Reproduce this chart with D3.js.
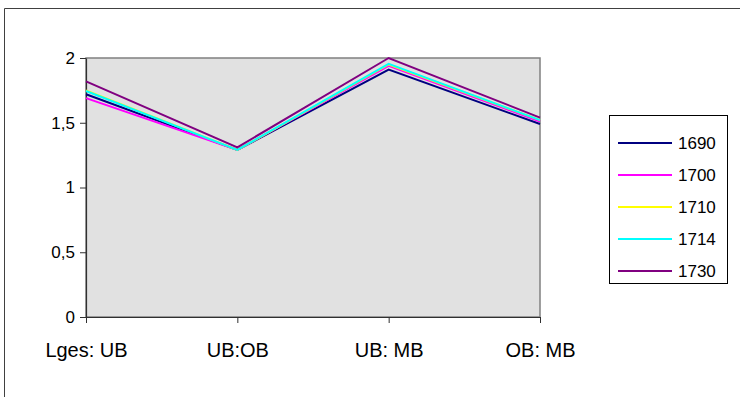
<!DOCTYPE html>
<html><head><meta charset="utf-8">
<script src="https://cdn.jsdelivr.net/npm/d3@7/dist/d3.min.js"></script>
<style>body{margin:0;background:#fff}svg{display:block}text{font-family:"Liberation Sans",Arial,sans-serif}</style>
</head><body><svg id="c" width="740" height="397"></svg>
<script>
const categories = ["Lges: UB", "UB:OB", "UB: MB", "OB: MB"];
const seriesNames = ["1690", "1700", "1710", "1714", "1730"];
const seriesColors = ["#000080", "#ff00ff", "#ffff00", "#00ffff", "#800080"];
const v1690 = [1.72, 1.29, 1.91, 1.49];
const v1700 = [1.69, 1.29, 1.94, 1.51];
const v1710 = [1.75, 1.29, 1.95, 1.52];
const v1714 = [1.745, 1.29, 1.955, 1.52];
const v1730 = [1.82, 1.31, 2.0, 1.54];
const seriesValues = [v1690, v1700, v1710, v1714, v1730];
const yTicks = [0, 0.5, 1, 1.5, 2];
const yTickLabels = ["0", "0,5", "1", "1,5", "2"];

const svg = d3.select("#c");
const L = 86, R = 540, T = 58, B = 317;
const x = d3.scalePoint().domain(categories).range([L, R]);
const y = d3.scaleLinear().domain([0, 2]).range([B, T]);

// outer frame
svg.append("path").attr("d", "M4.5,397 V8.5 H740").attr("fill", "none").attr("stroke", "#404040").attr("stroke-width", 1);

// plot area
svg.append("rect").attr("x", L).attr("y", T).attr("width", R - L).attr("height", B - T)
  .attr("fill", "#e1e1e1").attr("stroke", "#808080").attr("stroke-width", 1.5);

// y axis
const ya = svg.append("g").attr("transform", `translate(${L},0)`)
  .call(d3.axisLeft(y).tickValues(yTicks).tickFormat((d, i) => yTickLabels[i]).tickSize(6).tickSizeOuter(0));
ya.select(".domain").attr("stroke", "#303030").attr("stroke-width", 1.2);
ya.selectAll(".tick line").attr("stroke", "#303030");
ya.selectAll(".tick text").attr("font-size", 17).attr("fill", "#000").attr("x", -11).attr("font-family", "Liberation Sans, Arial, sans-serif");

// x axis
const xa = svg.append("g").attr("transform", `translate(0,${B})`)
  .call(d3.axisBottom(x).tickSize(6).tickSizeOuter(0));
xa.select(".domain").attr("stroke", "#303030").attr("stroke-width", 1.2);
xa.selectAll(".tick line").attr("stroke", "#303030");
xa.selectAll(".tick text").attr("font-size", 20).attr("fill", "#000").attr("y", 40).attr("dy", 0).attr("font-family", "Liberation Sans, Arial, sans-serif");

// lines
const line = d3.line().x((d, i) => x(categories[i])).y(d => y(d));
seriesValues.forEach((vals, k) => {
  svg.append("path").datum(vals).attr("d", line).attr("fill", "none")
    .attr("stroke", seriesColors[k]).attr("stroke-width", 2);
});

// legend
const lg = svg.append("g");
lg.append("rect").attr("x", 609.5).attr("y", 115.5).attr("width", 118).attr("height", 168)
  .attr("fill", "#fff").attr("stroke", "#000").attr("stroke-width", 1);
const ly = d3.scalePoint().domain(seriesNames).range([143, 271]);
seriesNames.forEach((n, k) => {
  lg.append("line").attr("x1", 618).attr("x2", 672).attr("y1", ly(n)).attr("y2", ly(n))
    .attr("stroke", seriesColors[k]).attr("stroke-width", 2);
  lg.append("text").attr("x", 678).attr("y", ly(n)).attr("dy", "0.35em").attr("font-size", 17).text(n);
});
</script></body></html>
